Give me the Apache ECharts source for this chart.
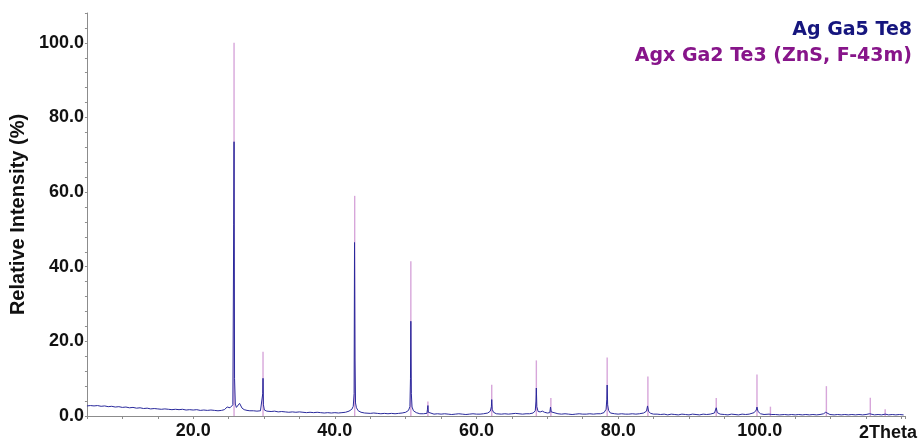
<!DOCTYPE html>
<html>
<head>
<meta charset="utf-8">
<script src="https://cdn.jsdelivr.net/npm/echarts@6/dist/echarts.min.js"></script>
<style>
html,body{margin:0;padding:0;background:#fff;}
#chart{width:920px;height:442px;}
</style>
</head>
<body>
<div id="chart"></div>
<script>
// Series names (legend texts)
const seriesNames = ['Ag Ga5 Te8', 'Agx Ga2 Te3 (ZnS, F-43m)'];

// Measured scan (Ag Ga5 Te8): [2Theta, relative intensity %]
const scanData = [
[5.0,2.7],[5.5,2.8],[6.0,2.7],[6.5,2.8],[7.0,2.6],[7.5,2.7],[8.0,2.5],[8.5,2.6],[9.0,2.4],[9.5,2.5],
[10.0,2.3],[10.5,2.4],[11.0,2.2],[11.5,2.3],[12.0,2.1],[12.5,2.2],[13.0,2.0],[13.5,2.1],[14.0,1.9],[14.5,2.0],
[15.0,1.9],[15.5,1.8],[16.0,1.9],[16.5,1.8],[17.0,1.7],[17.5,1.8],[18.0,1.7],[18.5,1.8],[19.0,1.6],[19.5,1.7],
[20.0,1.6],[20.5,1.7],[21.0,1.5],[21.5,1.6],[22.0,1.5],[22.5,1.6],[23.0,1.5],[23.5,1.4],[24.0,1.5],[24.4,1.7],
[24.8,2.4],[25.0,2.9],[25.2,2.2],[25.45,2.0],[25.6,3.0],[25.72,51.4],[25.77,73.5],[25.84,10.0],[25.95,3.2],[26.1,2.3],
[26.35,2.5],[26.55,3.4],[26.7,2.9],[26.9,2.1],[27.2,1.7],[27.6,1.5],[28.0,1.4],[28.5,1.4],[29.0,1.3],[29.5,1.4],
[29.75,1.6],[29.82,6.0],[29.86,10.1],[29.92,3.0],[30.05,1.6],[30.4,1.3],[31.0,1.2],[31.5,1.3],[32.0,1.1],[32.5,1.2],
[33.0,1.1],[33.5,1.0],[34.0,1.1],[34.5,1.0],[35.0,1.1],[35.5,1.0],[36.0,0.9],[36.5,1.0],[37.0,0.9],[37.5,1.0],
[38.0,0.9],[38.5,0.8],[39.0,0.9],[39.5,0.8],[40.0,0.9],[40.5,0.8],[41.0,0.9],[41.5,1.0],[42.0,1.3],[42.4,1.8],
[42.6,2.6],[42.72,6.0],[42.78,46.5],[42.85,15.0],[42.92,3.5],[43.05,2.2],[43.3,1.4],[43.7,1.0],[44.2,0.8],[45.0,0.7],
[45.5,0.8],[46.0,0.7],[46.5,0.6],[47.0,0.7],[47.5,0.6],[48.0,0.7],[48.5,0.6],[49.0,0.7],[49.5,0.8],[50.0,1.0],
[50.4,1.5],[50.6,2.5],[50.68,10.0],[50.73,25.4],[50.8,6.0],[50.9,2.4],[51.1,1.4],[51.5,0.9],[52.0,0.6],[52.5,0.6],
[53.0,0.7],[53.08,1.8],[53.14,2.8],[53.2,1.0],[53.4,0.6],[54.0,0.5],[54.5,0.6],[55.0,0.5],[55.5,0.6],[56.0,0.5],
[56.5,0.4],[57.0,0.5],[57.5,0.6],[58.0,0.5],[58.5,0.4],[59.0,0.5],[59.5,0.6],[60.0,0.5],[60.5,0.5],[61.0,0.6],
[61.6,0.8],[61.95,1.3],[62.1,2.5],[62.15,4.4],[62.22,1.8],[62.4,1.0],[62.8,0.6],[63.5,0.5],[64.0,0.6],[64.5,0.5],
[65.0,0.6],[65.5,0.7],[66.0,0.6],[66.5,0.5],[67.0,0.6],[67.5,0.6],[68.0,0.8],[68.3,1.4],[68.4,4.0],[68.45,7.5],
[68.52,2.5],[68.7,1.2],[69.0,1.1],[69.3,1.3],[69.6,1.0],[70.0,0.8],[70.35,0.9],[70.45,2.4],[70.55,1.1],[70.8,0.7],
[71.5,0.6],[72.0,0.5],[72.5,0.6],[73.0,0.5],[73.5,0.4],[74.0,0.5],[74.5,0.6],[75.0,0.5],[75.5,0.5],[76.0,0.6],
[76.5,0.5],[77.0,0.6],[77.5,0.6],[78.0,0.9],[78.3,1.8],[78.4,4.5],[78.45,8.3],[78.52,3.0],[78.65,1.5],[78.9,0.8],
[79.5,0.6],[80.0,0.5],[80.5,0.6],[81.0,0.5],[81.5,0.5],[82.0,0.6],[82.5,0.5],[83.0,0.6],[83.6,0.8],[84.0,1.3],
[84.15,2.7],[84.3,1.2],[84.6,0.7],[85.0,0.5],[85.5,0.5],[86.0,0.4],[86.5,0.5],[87.0,0.3],[87.5,0.5],[88.0,0.4],
[88.5,0.3],[89.0,0.5],[89.5,0.4],[90.0,0.3],[90.5,0.5],[91.0,0.4],[91.5,0.3],[92.0,0.5],[92.5,0.4],[93.0,0.5],
[93.6,0.8],[93.85,2.2],[94.0,0.9],[94.4,0.5],[95.0,0.4],[95.5,0.3],[96.0,0.5],[96.5,0.4],[97.0,0.3],[97.5,0.5],
[98.0,0.4],[98.5,0.5],[99.2,0.9],[99.5,1.6],[99.6,2.4],[99.75,1.2],[100.1,0.6],[100.6,0.4],[101.3,0.5],[101.5,1.0],
[101.7,0.4],[102.2,0.4],[102.8,0.3],[103.5,0.4],[104.0,0.3],[104.5,0.4],[105.0,0.3],[105.5,0.4],[106.0,0.3],[106.5,0.4],
[107.0,0.3],[107.5,0.4],[108.0,0.3],[108.5,0.4],[109.0,0.6],[109.3,1.0],[109.4,1.3],[109.55,0.8],[109.9,0.4],[110.5,0.3],
[111.0,0.4],[111.5,0.3],[112.0,0.4],[112.5,0.3],[113.0,0.4],[113.5,0.3],[114.0,0.4],[114.5,0.3],[115.0,0.4],[115.5,0.6],
[115.6,0.8],[115.75,0.4],[116.2,0.3],[116.7,0.4],[117.2,0.3],[117.7,0.5],[118.2,0.3],[118.7,0.4],[119.2,0.3],[119.7,0.4],
[120.3,0.3]
];

// Reference stick pattern (Agx Ga2 Te3, ZnS type)
const refAngle = [25.77, 29.86, 42.80, 50.73, 53.14, 62.15, 68.45, 70.50, 78.45, 84.20, 93.85, 99.60, 101.50, 109.40, 115.60, 117.70];
const refIntensity = [100.0, 17.2, 59.0, 41.5, 3.9, 8.4, 14.9, 4.8, 15.7, 10.6, 4.8, 11.1, 2.5, 8.0, 4.9, 1.8];

// Axis labels
const xLabelValues = [20, 40, 60, 80, 100];
const yLabelValues = [0, 20, 40, 60, 80, 100];
const xAxisTitle = '2Theta';
const yAxisTitle = 'Relative Intensity (%)';

const stickData = refAngle.map((a, i) => [a, refIntensity[i]]);

const chart = echarts.init(document.getElementById('chart'), null, {renderer: 'canvas'});
const axisFont = 'Liberation Sans, Arial, sans-serif';
chart.setOption({
  animation: false,
  backgroundColor: '#ffffff',
  grid: {left: 84, right: 15, top: 13, bottom: 21, containLabel: false},
  xAxis: {
    type: 'value', min: 5, max: 120.5, interval: 5,
    axisLine: {lineStyle: {color: '#8c8c8c', width: 1}},
    axisTick: {show: true, length: 3, lineStyle: {color: '#8c8c8c'}},
    splitLine: {show: false},
    axisLabel: {
      margin: 6, color: '#111', fontFamily: axisFont, fontWeight: 'bold', fontSize: 18,
      formatter: v => xLabelValues.indexOf(v) >= 0 ? v.toFixed(1) : ''
    },
    name: xAxisTitle, nameLocation: 'end', nameGap: 12,
    nameTextStyle: {color: '#111', fontFamily: axisFont, fontWeight: 'bold', fontSize: 18,
      align: 'right', verticalAlign: 'top', padding: [8, 0, 0, 0]}
  },
  yAxis: {
    type: 'value', min: 0, max: 108, interval: 4,
    axisLine: {show: true, lineStyle: {color: '#8c8c8c', width: 1}},
    axisTick: {show: true, length: 2, lineStyle: {color: '#8c8c8c'}},
    splitLine: {show: false},
    axisLabel: {
      margin: 3, color: '#111', fontFamily: axisFont, fontWeight: 'bold', fontSize: 18,
      formatter: v => yLabelValues.indexOf(v) >= 0 ? v.toFixed(1) : ''
    },
    name: yAxisTitle, nameLocation: 'middle', nameRotate: 90, nameGap: 54,
    nameTextStyle: {color: '#111', fontFamily: axisFont, fontWeight: 'bold', fontSize: 20}
  },
  series: [
    {
      name: seriesNames[1], type: 'bar', data: stickData, barWidth: 1.4,
      itemStyle: {color: '#d7a6da'}, z: 1
    },
    {
      name: seriesNames[0], type: 'line', data: scanData, showSymbol: false, symbol: 'none',
      lineStyle: {color: '#2a2a9c', width: 1}, sampling: null, z: 2
    }
  ],
  graphic: [
    {type: 'text', right: 8, top: 21, style: {text: seriesNames[0], fill: '#16167e',
      font: 'bold 19px "DejaVu Sans", sans-serif'}},
    {type: 'text', right: 8, top: 47, style: {text: seriesNames[1], fill: '#87158a',
      font: 'bold 19px "DejaVu Sans", sans-serif'}}
  ]
});
</script>
</body>
</html>
